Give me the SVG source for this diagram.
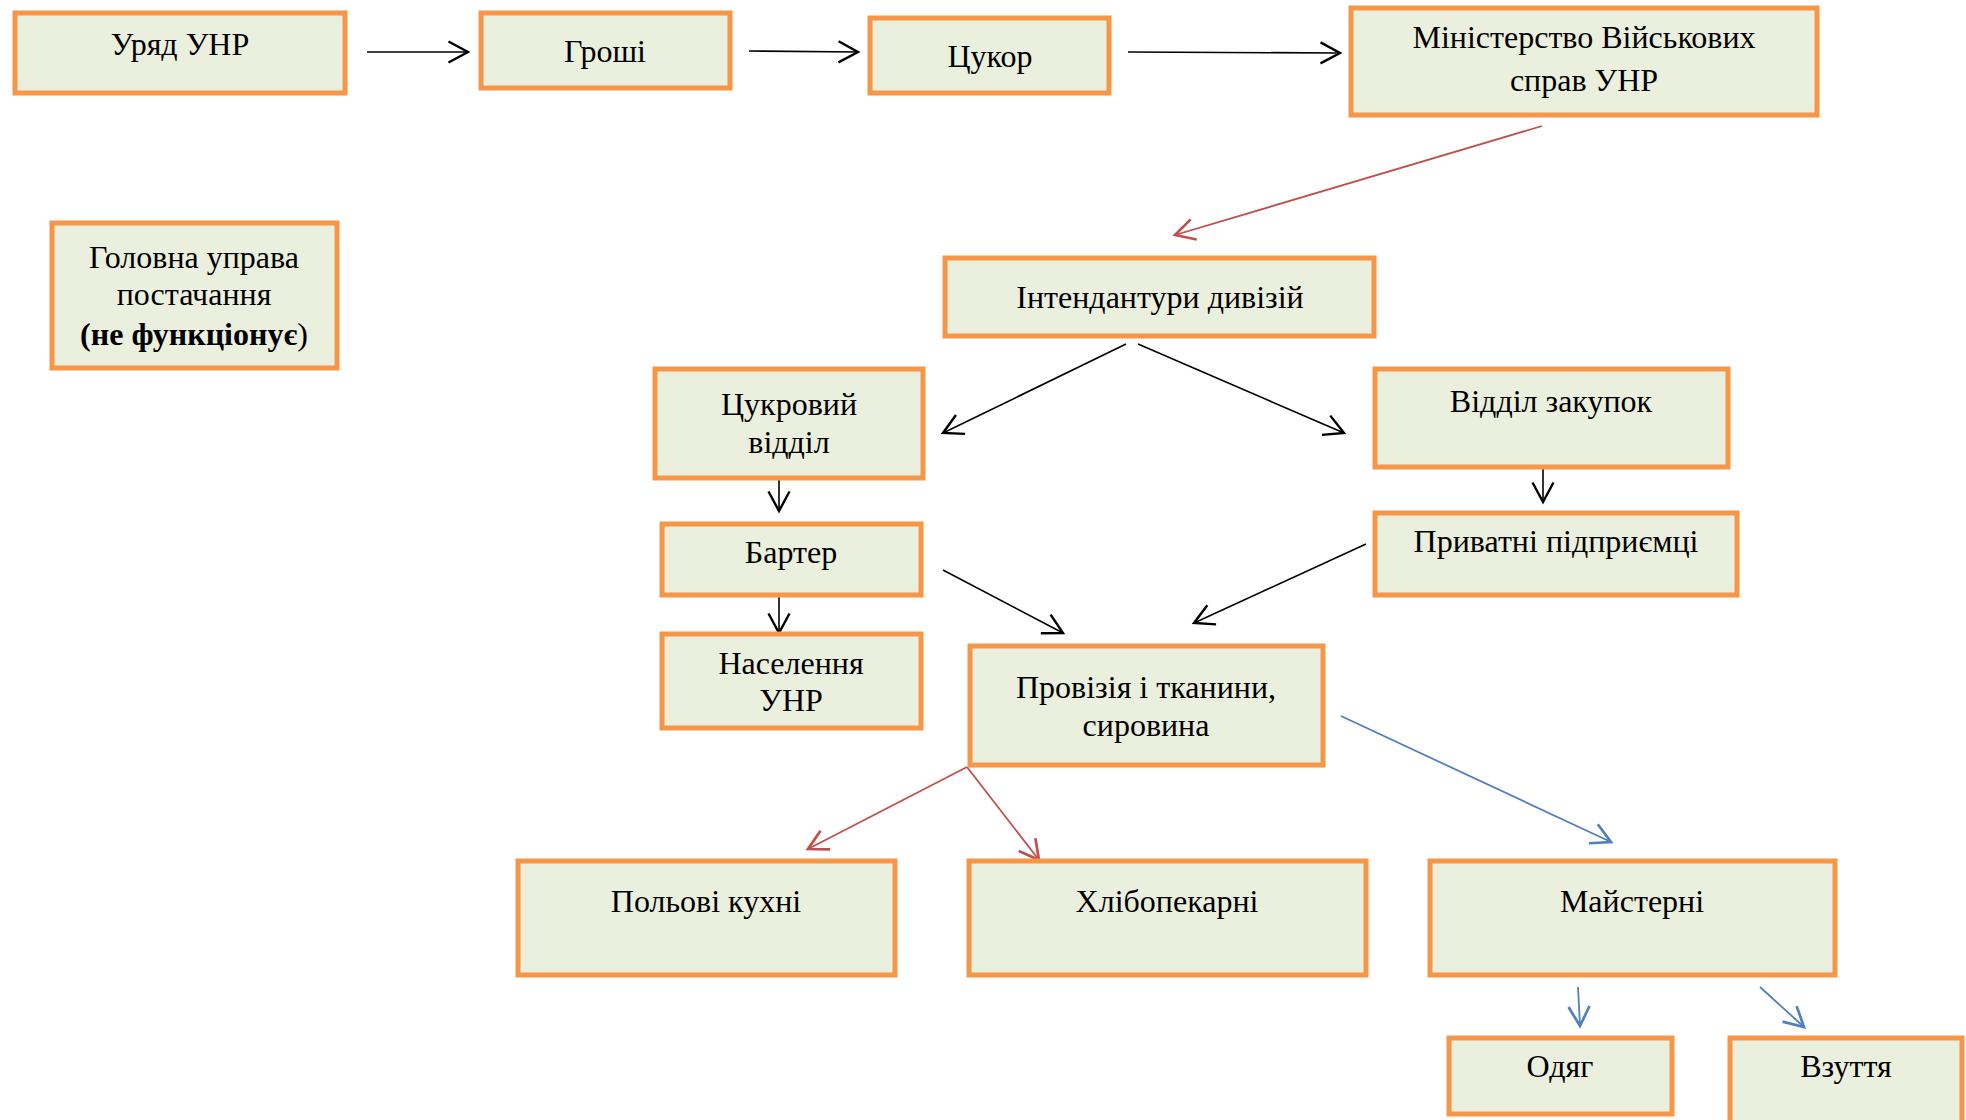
<svg xmlns="http://www.w3.org/2000/svg" width="1966" height="1120" viewBox="0 0 1966 1120">
<style>
  .box { fill: #EBEFDD; stroke: #F79646; stroke-width: 5; }
  .t { font-family: "Liberation Serif", "Times New Roman", serif; font-size: 32px; fill: #000; text-anchor: middle; }
  .b { font-weight: bold; }
  .ck { stroke: #000; stroke-width: 1.6; fill: none; marker-end: url(#ak); }
  .cr { stroke: #C0504D; stroke-width: 1.8; fill: none; marker-end: url(#ar); }
  .cb { stroke: #4F81BD; stroke-width: 1.8; fill: none; marker-end: url(#ab); }
</style>
<defs>
  <marker id="ak" markerUnits="userSpaceOnUse" markerWidth="24" markerHeight="24" refX="14" refY="8" orient="auto" viewBox="0 0 16 16">
    <path d="M1,1 L14,8 L1,15" fill="none" stroke="#000" stroke-width="1.6"/>
  </marker>
  <marker id="ar" markerUnits="userSpaceOnUse" markerWidth="24" markerHeight="24" refX="14" refY="8" orient="auto" viewBox="0 0 16 16">
    <path d="M1,1 L14,8 L1,15" fill="none" stroke="#C0504D" stroke-width="1.8"/>
  </marker>
  <marker id="ab" markerUnits="userSpaceOnUse" markerWidth="24" markerHeight="24" refX="14" refY="8" orient="auto" viewBox="0 0 16 16">
    <path d="M1,1 L14,8 L1,15" fill="none" stroke="#4F81BD" stroke-width="1.8"/>
  </marker>
</defs>
<rect width="1966" height="1120" fill="#FFFFFF"/>

<g id="connectors">
  <line class="ck" x1="367" y1="52" x2="468" y2="52"/>
  <line class="ck" x1="749" y1="51" x2="858" y2="52"/>
  <line class="ck" x1="1128" y1="52" x2="1340" y2="53"/>
  <line class="cr" x1="1542" y1="126" x2="1175" y2="235"/>
  <line class="ck" x1="1126" y1="344" x2="943" y2="433"/>
  <line class="ck" x1="1138" y1="344" x2="1344" y2="433"/>
  <line class="ck" x1="1543" y1="467" x2="1543" y2="502"/>
  <line class="ck" x1="1366" y1="544" x2="1194" y2="623"/>
  <line class="ck" x1="779" y1="479" x2="779" y2="511"/>
  <line class="ck" x1="779" y1="596" x2="779" y2="633"/>
  <line class="ck" x1="943" y1="570" x2="1063" y2="633"/>
  <line class="cr" x1="967" y1="767" x2="808" y2="849"/>
  <line class="cr" x1="967" y1="767" x2="1039" y2="860"/>
  <line class="cb" x1="1341" y1="716" x2="1611" y2="842"/>
  <line class="cb" x1="1578" y1="987" x2="1580" y2="1026"/>
  <line class="cb" x1="1760" y1="987" x2="1804" y2="1027"/>
</g>

<g id="n-uriad"><rect class="box" x="15" y="13" width="330" height="80"/><text class="t" x="180" y="55">Уряд УНР</text></g>
<g id="n-groshi"><rect class="box" x="481" y="13" width="249" height="75"/><text class="t" x="605" y="62">Гроші</text></g>
<g id="n-tsukor"><rect class="box" x="870" y="18" width="239" height="75"/><text class="t" x="990" y="67">Цукор</text></g>
<g id="n-ministerstvo"><rect class="box" x="1351" y="8" width="466" height="107"/><text class="t" x="1584" y="48">Міністерство Військових</text><text class="t" x="1584" y="91">справ УНР</text></g>
<g id="n-holovna"><rect class="box" x="52" y="223" width="285" height="145"/><text class="t" x="194" y="268">Головна управа</text><text class="t" x="194" y="305">постачання</text><text class="t" x="194" y="345"><tspan class="b">(не функціонує</tspan>)</text></g>
<g id="n-intendantury"><rect class="box" x="945" y="258" width="429" height="78"/><text class="t" x="1160" y="308">Інтендантури дивізій</text></g>
<g id="n-tsukrovyi"><rect class="box" x="655" y="369" width="268" height="109"/><text class="t" x="789" y="415">Цукровий</text><text class="t" x="789" y="453">відділ</text></g>
<g id="n-zakupok"><rect class="box" x="1375" y="369" width="353" height="98"/><text class="t" x="1551" y="412">Відділ закупок</text></g>
<g id="n-pryvatni"><rect class="box" x="1375" y="513" width="362" height="82"/><text class="t" x="1556" y="552">Приватні підприємці</text></g>
<g id="n-barter"><rect class="box" x="662" y="524" width="259" height="71"/><text class="t" x="791" y="563">Бартер</text></g>
<g id="n-naselennia"><rect class="box" x="662" y="634" width="259" height="94"/><text class="t" x="791" y="674">Населення</text><text class="t" x="791" y="711">УНР</text></g>
<g id="n-provizia"><rect class="box" x="970" y="646" width="353" height="119"/><text class="t" x="1146" y="698">Провізія і тканини,</text><text class="t" x="1146" y="736">сировина</text></g>
<g id="n-polovi"><rect class="box" x="518" y="861" width="377" height="114"/><text class="t" x="706" y="912">Польові кухні</text></g>
<g id="n-khlib"><rect class="box" x="969" y="861" width="397" height="114"/><text class="t" x="1167" y="912">Хлібопекарні</text></g>
<g id="n-maisterni"><rect class="box" x="1430" y="861" width="405" height="114"/><text class="t" x="1632" y="912">Майстерні</text></g>
<g id="n-odiah"><rect class="box" x="1449" y="1038" width="223" height="76"/><text class="t" x="1560" y="1077">Одяг</text></g>
<g id="n-vzuttia"><rect class="box" x="1730" y="1038" width="232" height="100"/><text class="t" x="1846" y="1077">Взуття</text></g>
</svg>
